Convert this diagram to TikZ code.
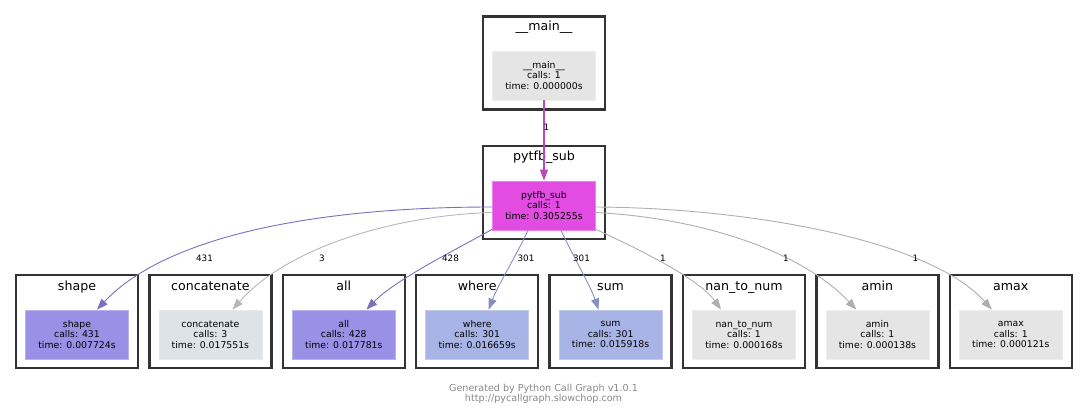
\documentclass[tikz,border=0pt]{standalone}
\usepackage{fontspec}
\setmainfont{DejaVu Sans}
\usetikzlibrary{arrows.meta}
\definecolor{clusterline}{HTML}{333333}
\definecolor{greyfill}{HTML}{E5E5E5}
\definecolor{concfill}{HTML}{DDE3E6}
\definecolor{purplefill}{HTML}{9A90E6}
\definecolor{bluefill}{HTML}{A8B4E6}
\definecolor{magfill}{HTML}{E34CE3}
\definecolor{purpleedge}{HTML}{7A70BF}
\definecolor{blueedge}{HTML}{8590C0}
\definecolor{greyedge}{HTML}{AEAEAE}
\definecolor{concedge}{HTML}{B3B8BA}
\definecolor{magedge}{HTML}{BB48BB}
\definecolor{footgrey}{HTML}{888888}
\tikzset{
  cluster/.style={draw=clusterline, line width=2.4pt, minimum width=122pt, minimum height=93pt, inner sep=0pt},
  ctitle/.style={font=\fontsize{12.6}{14}\selectfont, inner sep=0pt, anchor=base},
  fnode/.style={minimum width=103pt, minimum height=49pt, inner sep=0pt, align=center, font=\fontsize{9.3}{10.7}\selectfont, line width=0.8pt},
  elabel/.style={font=\fontsize{8.8}{10}\selectfont, inner sep=0pt},
  edge/.style={line width=0.9pt, -{Triangle[length=11pt,width=8pt]}},
}
\begin{document}
\begin{tikzpicture}[x=1pt,y=-1pt]
\useasboundingbox (0,0) rectangle (1088,417);
% top clusters
\node[cluster] (cmain) at (544,63) {};
\node[ctitle] (tmain) at (544,31) {\_\_main\_\_};
\node[fnode, fill=greyfill, draw=greyfill!70!white] (main) at (544,75.5) {\_\_main\_\_\\calls: 1\\time: 0.000000s};
\node[cluster] (csub) at (544,192.5) {};
\node[ctitle] (tsub) at (544,161) {pytfb\_sub};
\node[fnode, fill=magfill, draw=magfill!70!white] (sub) at (544,205.5) {pytfb\_sub\\calls: 1\\time: 0.305255s};
% bottom clusters
\foreach \nm/\ttl/\calls/\tm/\fc/\i in {
  shape/shape/431/0.007724s/purplefill/0,
  conc/concatenate/3/0.017551s/concfill/1,
  all/all/428/0.017781s/purplefill/2,
  where/where/301/0.016659s/bluefill/3,
  sum/sum/301/0.015918s/bluefill/4,
  nan/nan\_to\_num/1/0.000168s/greyfill/5,
  amin/amin/1/0.000138s/greyfill/6,
  amax/amax/1/0.000121s/greyfill/7}{
  \node[cluster] (c\nm) at (77+133.4*\i,321.5) {};
  \node[ctitle] (t\nm) at (77+133.4*\i,290.5) {\ttl};
  \node[fnode, fill=\fc, draw=\fc!70!white] (\nm) at (77+133.4*\i,334.5) {\ttl\\calls: \calls\\time: \tm};
}
% edges
\draw[edge, magedge, line width=1.3pt] (main.south) -- (sub.north);
\node[elabel] (l0) at (546.5,127) {1};
\draw[edge, purpleedge] ([yshift=-1.5pt]sub.west) .. controls (330,207) and (170,232) .. ([xshift=20pt]shape.north);
\draw[edge, concedge] ([yshift=-7pt]sub.west) .. controls (400,215) and (290,245) .. ([xshift=22pt]conc.north);
\draw[edge, purpleedge] ([yshift=1pt]sub.south west) .. controls (455,250) and (395,280) .. ([xshift=22.7pt]all.north);
\draw[edge, blueedge] ([xshift=-16pt]sub.south) .. controls (515,258) and (498,285) .. ([xshift=11.5pt]where.north);
\draw[edge, blueedge] ([xshift=17pt]sub.south) .. controls (574,258) and (590,285) .. ([xshift=-12pt]sum.north);
\draw[edge, greyedge] ([yshift=1pt]sub.south east) .. controls (645,252) and (700,280) .. ([xshift=-23pt]nan.north);
\draw[edge, greyedge] ([yshift=-7pt]sub.west -| sub.east) .. controls (700,218) and (800,250) .. ([xshift=-21pt]amin.north);
\draw[edge, greyedge] ([yshift=-1.5pt]sub.east) .. controls (750,208) and (930,240) .. ([xshift=-19pt]amax.north);
\node[elabel] (l1) at (204.5,258) {431};
\node[elabel] (l2) at (322,258) {3};
\node[elabel] (l3) at (450.5,258) {428};
\node[elabel] (l4) at (526,258) {301};
\node[elabel] (l5) at (581.5,258) {301};
\node[elabel] (l6) at (663,258) {1};
\node[elabel] (l7) at (786,258) {1};
\node[elabel] (l8) at (915.5,258) {1};
% footer
\node[font=\fontsize{9.6}{10}\selectfont, text=footgrey, align=center, inner sep=0pt] (foot) at (543.5,394.3) {Generated by Python Call Graph v1.0.1\\http://pycallgraph.slowchop.com};
\end{tikzpicture}
\end{document}
